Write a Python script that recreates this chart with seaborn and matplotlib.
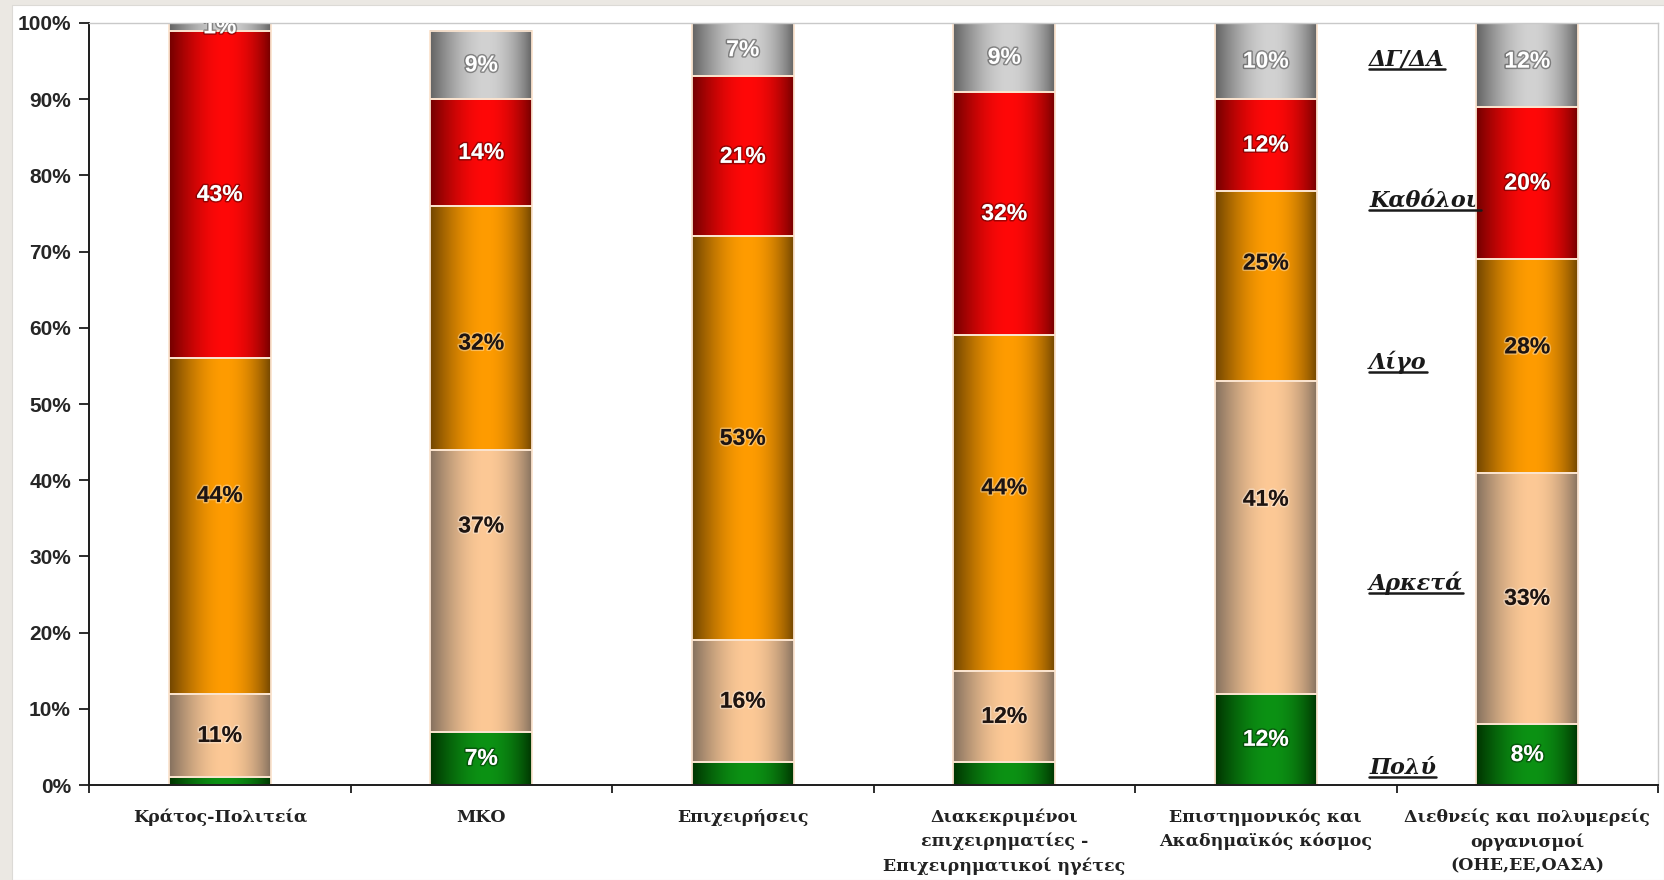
import numpy as np
import pandas as pd
import matplotlib
matplotlib.use("Agg")
import matplotlib.pyplot as plt
import matplotlib.patheffects as pe
from matplotlib.colors import to_rgb
from matplotlib.lines import Line2D
from matplotlib.patches import Rectangle
from matplotlib.ticker import FixedLocator, FuncFormatter
import seaborn as sns

# ---- data -------------------------------------------------------------
categories = [
    "Κράτος-Πολιτεία",
    "ΜΚΟ",
    "Επιχειρήσεις",
    "Διακεκριμένοι\nεπιχειρηματίες -\nΕπιχειρηματικοί ηγέτες",
    "Επιστημονικός και\nΑκαδημαϊκός κόσμος",
    "Διεθνείς και πολυμερείς\nοργανισμοί\n(ΟΗΕ,ΕΕ,ΟΑΣΑ)",
]
levels = ["Πολύ", "Αρκετά", "Λίγο", "Καθόλου", "ΔΓ/ΔΑ"]
poly = [1, 7, 3, 3, 12, 8]
arketa = [11, 37, 16, 12, 41, 33]
ligo = [44, 32, 53, 44, 25, 28]
katholou = [43, 14, 21, 32, 12, 20]
dg_da = [1, 9, 7, 9, 10, 12]
series = [poly, arketa, ligo, katholou, dg_da]

# ---- styling ----------------------------------------------------------
# (edge shade, centre highlight) of the cylinder-like fill for each level
shades = {
    "Πολύ": ("#003300", "#0c9214"),
    "Αρκετά": ("#84705e", "#fdc996"),
    "Λίγο": ("#704500", "#ff9c00"),
    "Καθόλου": ("#720000", "#ff0808"),
    "ΔΓ/ΔΑ": ("#626262", "#d2d2d2"),
}
text_colors = {"Πολύ": "white", "Αρκετά": "#1e1410", "Λίγο": "#1e1410",
               "Καθόλου": "white", "ΔΓ/ΔΑ": "white"}
# segments too thin to carry a value label
no_label = {(0, 0), (0, 2), (0, 3)}
# vertical nudges (percentage points) for a few value labels
label_nudge = {(2, 0): 4.0, (2, 1): -2.0, (1, 1): 8.5, (2, 3): 2.0,
               (2, 4): 3.0, (1, 4): 5.0, (2, 5): 2.5}
# legend words written beside the bars: (x in category units, baseline in %)
side_pos = {"ΔΓ/ΔΑ": 94.4, "Καθόλου": 75.8, "Λίγο": 54.6,
            "Αρκετά": 25.6, "Πολύ": 1.4}
side_x = 4.395

sns.set_style("white")
plt.rcParams["font.family"] = ["Liberation Sans", "DejaVu Sans"]

W, H = 1664, 880
fig = plt.figure(figsize=(W / 100, H / 100), dpi=100, facecolor="#ebe8e3")
fig.patches.append(Rectangle((12 / W, 0), 1 - 12 / W, 1 - 5 / H,
                             transform=fig.transFigure, facecolor="white",
                             edgecolor="#dcdad6", linewidth=0.8, zorder=-5))

ax = fig.add_axes([89 / W, 1 - 785 / H, (1658 - 89) / W, (785 - 23) / H])
ax.set_facecolor("white")

# stacked bars, one seaborn call per response level
bottom = np.zeros(len(categories))
layer_patches = []
for lvl, vals in zip(levels, series):
    n0 = len(ax.patches)
    sns.barplot(x=categories, y=vals, order=categories, color=shades[lvl][1],
                saturation=1, width=0.39, errorbar=None, bottom=bottom.copy(),
                ax=ax)
    layer_patches.append(ax.patches[n0:])
    bottom += np.asarray(vals, dtype=float)

# horizontal shading profile of each bar (bright just right of centre)
t = np.linspace(0, 1, 256)
profile = np.sin(np.pi * t ** 1.15) ** 0.85

for lvl, vals, patches in zip(levels, series, layer_patches):
    lo, hi = np.array(to_rgb(shades[lvl][0])), np.array(to_rgb(shades[lvl][1]))
    grad = lo[None, :] + (hi - lo)[None, :] * profile[:, None]
    grad = grad[None, :, :]
    li = levels.index(lvl)
    for ci, (p, v) in enumerate(zip(patches, vals)):
        x0, y0, w, h = p.get_x(), p.get_y(), p.get_width(), p.get_height()
        ax.imshow(grad, extent=(x0, x0 + w, y0, y0 + h), aspect="auto",
                  interpolation="bilinear", zorder=1.5)
        p.set_facecolor("none")
        p.set_edgecolor("#fbe4cf")
        p.set_linewidth(1.3)
        p.set_zorder(2)
        if (li, ci) in no_label:
            continue
        col = text_colors[lvl]
        halo = (0, 0, 0, 0.35) if col == "white" else (1, 1, 1, 0.35)
        ax.text(x0 + w / 2, y0 + h / 2 + label_nudge.get((li, ci), 0),
                f"{v}%", ha="center", va="center", fontsize=16.5,
                fontweight="bold", color=col, zorder=3, clip_on=True,
                path_effects=[pe.withStroke(linewidth=2.2, foreground=halo)])

ax.set_xlim(-0.5, len(categories) - 0.5)
ax.set_ylim(0, 100)

# axes, ticks, labels
for side in ("left", "bottom"):
    ax.spines[side].set_color("#1c1c1c")
    ax.spines[side].set_linewidth(1.4)
for side in ("top", "right"):
    ax.spines[side].set_color("#c9c9c9")
    ax.spines[side].set_linewidth(1.0)

ax.yaxis.set_major_locator(FixedLocator(np.arange(0, 101, 10)))
ax.yaxis.set_major_formatter(FuncFormatter(lambda v, _: f"{v:.0f}%"))
ax.tick_params(axis="y", direction="out", length=7, width=1.3,
               color="#1c1c1c", pad=6, left=True, labelsize=15,
               labelcolor="#262626")
for lab in ax.get_yticklabels():
    lab.set_fontweight("bold")

ax.set_xticks(range(len(categories)))
ax.set_xticklabels(categories, fontfamily="DejaVu Serif", fontweight="bold",
                   fontsize=12.5, color="#222222", linespacing=1.5)
ax.set_xticks(np.arange(-0.5, len(categories) - 0.4, 1), minor=True)
ax.tick_params(axis="x", which="major", length=0, pad=17, bottom=True)
ax.tick_params(axis="x", which="minor", direction="out", length=6, width=1.3,
               color="#1c1c1c", bottom=True)
ax.set_xlabel("")
ax.set_ylabel("")

# response-level names written between the last two bars
side_texts = []
for lvl in levels:
    txt = ax.text(side_x, side_pos[lvl], lvl, ha="left", va="baseline",
                  fontfamily="DejaVu Serif", fontweight="bold",
                  fontstyle="italic", fontsize=16, color="#1a1a1a", zorder=1)
    side_texts.append(txt)

fig.canvas.draw()
renderer = fig.canvas.get_renderer()
for txt in side_texts:
    bb = txt.get_window_extent(renderer)
    base = ax.transData.transform(txt.get_position())[1] - 3
    fig.lines.append(Line2D([bb.x0 / W, bb.x1 / W], [base / H, base / H],
                            transform=fig.transFigure, color="#1a1a1a",
                            linewidth=1.8, zorder=1))

fig.savefig("out.png", dpi=100, facecolor=fig.get_facecolor())
